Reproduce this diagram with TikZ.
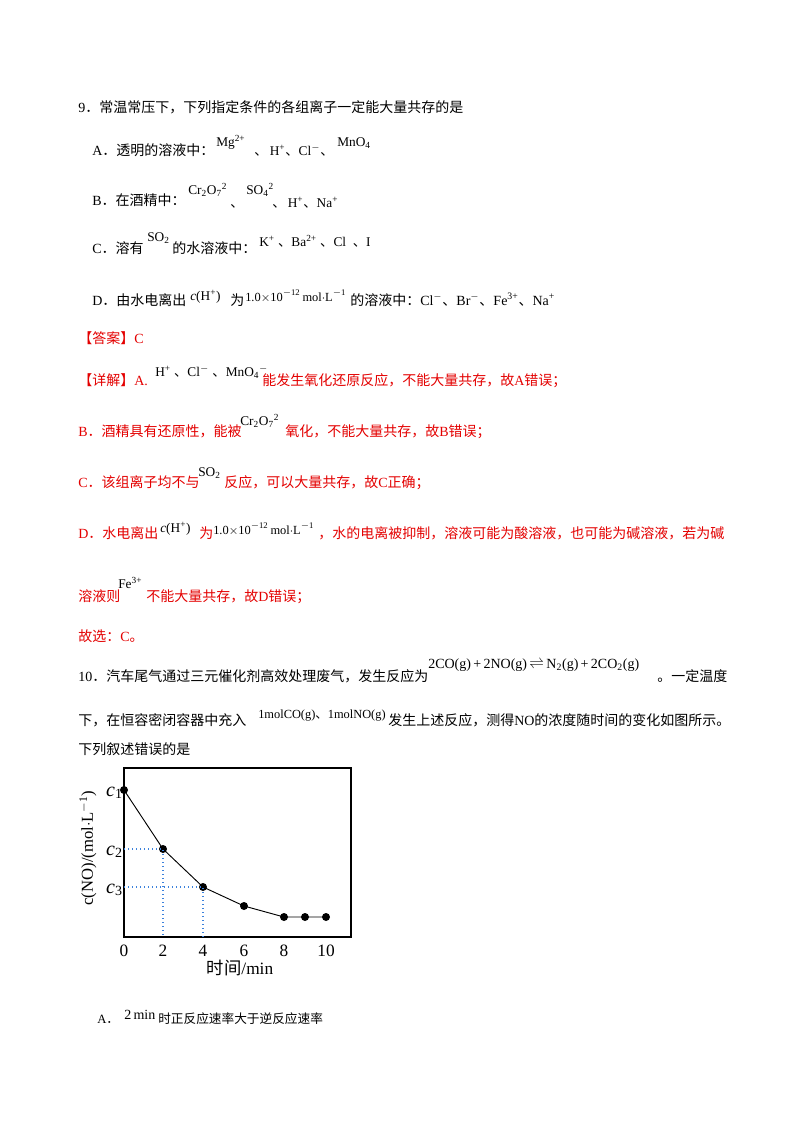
\documentclass[tikz,border=0pt]{standalone}
\usepackage{fontspec}
\setmainfont{Liberation Serif}
\newfontfamily\cjk{Noto Sans CJK SC}
\definecolor{ans}{RGB}{228,0,0}
\definecolor{dotb}{RGB}{60,130,220}
\newcommand{\dd}{{\cjk ．}}
\newcommand{\dn}{{\cjk 、}}
\begin{document}
\begin{tikzpicture}[x=0.75pt,y=-0.75pt,
  t/.style={anchor=base west,inner sep=0pt,font=\fontsize{10.5}{12}\selectfont},
  s/.style={anchor=base west,inner sep=0pt,font=\fontsize{10}{11}\selectfont},
  sm/.style={anchor=base west,inner sep=0pt,font=\fontsize{9.3}{11}\selectfont},
  r/.style={text=ans},
  pt/.style={circle,fill=black,inner sep=0pt,minimum size=6pt},
  dl/.style={dotb,dotted,line width=1pt},
  cl/.style={anchor=base east,inner sep=0pt,font=\fontsize{15}{16}\selectfont}]
\useasboundingbox[fill=white] (0,0) rectangle (800,1132);
% Question 9
\node[t] (q9) at (78,112) {9\dd{\cjk 常温常压下，下列指定条件的各组离子一定能大量共存的是}};
\node[t] (a9) at (92,155) {A\dd{\cjk 透明的溶液中：}};
\node[s] at (216,146) {Mg\textsuperscript{2+}};
\node[s] at (254,155) {\dn\,H\textsuperscript{+}\dn Cl\textsuperscript{$-$}\dn};
\node[s] at (337,146) {MnO\textsubscript{4}};
\node[t] (b9) at (92,205) {B\dd{\cjk 在酒精中：}};
\node[s] at (188,194) {Cr\textsubscript{2}O\textsubscript{7}\textsuperscript{2}};
\node[s] at (230,207) {\dn};
\node[s] at (246,194) {SO\textsubscript{4}\textsuperscript{2}};
\node[s] at (272,207) {\dn\,H\textsuperscript{+}\dn Na\textsuperscript{+}};
\node[t] (c9) at (92,253) {C\dd{\cjk 溶有}};
\node[s] at (147,241) {SO\textsubscript{2}};
\node[t] at (172,253) {{\cjk 的水溶液中：}};
\node[s] at (259,246) {K\textsuperscript{+}\ \dn Ba\textsuperscript{2+}\ \dn Cl\ \ \dn I};
\node[t] (d9) at (92,305) {D\dd{\cjk 由水电离出}};
\node[s] at (190,300) {\textit{c}(H\textsuperscript{+})};
\node[t] at (230,305) {{\cjk 为}};
\node[sm] at (245,301) {1.0$\times$10\textsuperscript{$-$12}\,mol$\cdot$L\textsuperscript{$-$1}};
\node[t] at (350,305) {{\cjk 的溶液中：}Cl\textsuperscript{$-$}\dn Br\textsuperscript{$-$}\dn Fe\textsuperscript{3+}\dn Na\textsuperscript{+}};
% Answer
\node[t,r] (ans) at (78,343) {{\cjk 【答案】}C};
\node[t,r] (xa) at (78,385) {{\cjk 【详解】}A.};
\node[s] at (155,376) {H\textsuperscript{+}\ \dn Cl\textsuperscript{$-$}\ \dn MnO\textsubscript{4}\textsuperscript{$-$}};
\node[t,r] at (262,385) {{\cjk 能发生氧化还原反应，不能大量共存，故}A{\cjk 错误；}};
\node[t,r] (xb) at (78,436) {B\dd{\cjk 酒精具有还原性，能被}};
\node[s] at (240,425) {Cr\textsubscript{2}O\textsubscript{7}\textsuperscript{2}};
\node[t,r] at (285,436) {{\cjk 氧化，不能大量共存，故}B{\cjk 错误；}};
\node[t,r] (xc) at (78,487) {C\dd{\cjk 该组离子均不与}};
\node[s] at (198,476) {SO\textsubscript{2}};
\node[t,r] at (224,487) {{\cjk 反应，可以大量共存，故}C{\cjk 正确；}};
\node[t,r] (xd) at (78,538) {D\dd{\cjk 水电离出}};
\node[s] at (160,532) {\textit{c}(H\textsuperscript{+})};
\node[t,r] at (199,538) {{\cjk 为}};
\node[sm] at (213,534) {1.0$\times$10\textsuperscript{$-$12}\,mol$\cdot$L\textsuperscript{$-$1}};
\node[t,r] at (318,538) {{\cjk ，水的电离被抑制，溶液可能为酸溶液，也可能为碱溶液，若为碱}};
\node[t,r] (xe) at (78,601) {{\cjk 溶液则}};
\node[s] at (118,588) {Fe\textsuperscript{3+}};
\node[t,r] at (146,601) {{\cjk 不能大量共存，故}D{\cjk 错误；}};
\node[t,r] (xf) at (78,641) {{\cjk 故选：}C{\cjk 。}};
% Question 10
\node[t] (q10) at (78,681) {10\dd{\cjk 汽车尾气通过三元催化剂高效处理废气，发生反应为}};
\node[s,font=\fontsize{10.5}{11}\selectfont] at (428,668) {2CO(g)\,+\,2NO(g)\,$\rightleftharpoons$\,N\textsubscript{2}(g)\,+\,2CO\textsubscript{2}(g)};
\node[t] at (657,681) {{\cjk 。一定温度}};
\node[t] (q10b) at (78,725) {{\cjk 下，在恒容密闭容器中充入}};
\node[sm] at (258,718) {1molCO(g)\dn 1molNO(g)};
\node[t] at (388,725) {{\cjk 发生上述反应，测得}NO{\cjk 的浓度随时间的变化如图所示。}};
\node[t] (q10c) at (78,754) {{\cjk 下列叙述错误的是}};
% Chart
\draw[line width=0.8pt] (124,768) rectangle (351,937);
\node[pt] (p0) at (124,790) {};
\node[pt] (p2) at (163,849) {};
\node[pt] (p4) at (203,887) {};
\node[pt] (p6) at (244,906) {};
\node[pt] (p8) at (284,917) {};
\node[pt] (p9) at (305,917) {};
\node[pt] (p10) at (326,917) {};
\draw[line width=0.7pt] (p0.center) -- (p2.center) -- (p4.center) -- (p6.center) -- (p8.center) -- (p9.center) -- (p10.center);
\coordinate (y2) at (124,849); \coordinate (x2) at (163,937);
\coordinate (y4) at (124,887); \coordinate (x4) at (203,937);
\draw[dl] (y2) -- (p2.center) -- (x2);
\draw[dl] (y4) -- (p4.center) -- (x4);
\node[cl] (c1) at (123,796) {\textit{c}\textsubscript{1}};
\node[cl] (c2) at (123,855) {\textit{c}\textsubscript{2}};
\node[cl] (c3) at (123,893) {\textit{c}\textsubscript{3}};
\foreach \v/\xx in {0/124,2/163,4/203,6/244,8/284,10/326}
  \node[anchor=base,inner sep=0pt,font=\fontsize{13}{14}\selectfont] (tk\v) at (\xx,956) {\v};
\node[anchor=base,inner sep=0pt,font=\fontsize{13}{14}\selectfont] (xl) at (240,974) {{\cjk 时间}/min};
\node[rotate=90,inner sep=0pt,font=\fontsize{12.5}{14}\selectfont] (yl) at (88,848) {c(NO)/(mol$\cdot$L\textsuperscript{$-$1})};
% Option A
\node[t,font=\fontsize{9.5}{11}\selectfont] (oa) at (97,1023) {A\dd};
\node[s,font=\fontsize{10.5}{11}\selectfont] at (124,1019) {2\,min};
\node[t,font=\fontsize{9.5}{11}\selectfont] at (158,1023) {{\cjk 时正反应速率大于逆反应速率}};
\end{tikzpicture}
\end{document}
